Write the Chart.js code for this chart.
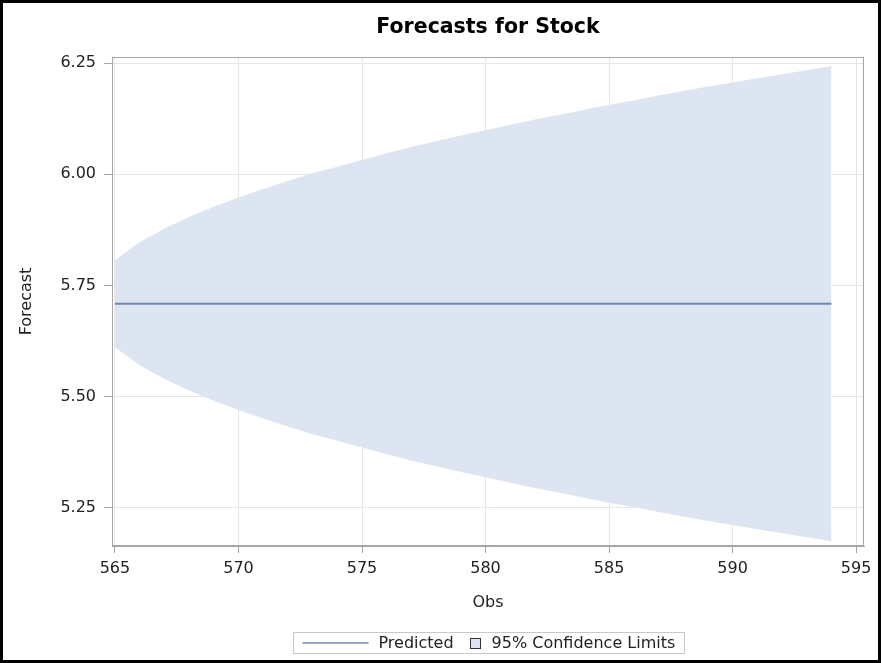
<!DOCTYPE html>
<html>
<head>
<meta charset="utf-8">
<script src="https://cdn.jsdelivr.net/npm/chart.js@4/dist/chart.umd.min.js"></script>
<style>
html,body{margin:0;padding:0;background:#fff;}
#wrap{width:881px;height:663px;position:relative;}
</style>
</head>
<body>
<div id="wrap"><canvas id="c" width="881" height="663"></canvas></div>
<script>
// Data
const obs = [565,566,567,568,569,570,571,572,573,574,575,576,577,578,579,580,581,582,583,584,585,586,587,588,589,590,591,592,593,594];
const predicted = [5.709,5.709,5.709,5.709,5.709,5.709,5.709,5.709,5.709,5.709,5.709,5.709,5.709,5.709,5.709,5.709,5.709,5.709,5.709,5.709,5.709,5.709,5.709,5.709,5.709,5.709,5.709,5.709,5.709,5.709];
const upper95 = [5.807,5.847,5.878,5.904,5.927,5.948,5.967,5.985,6.002,6.017,6.032,6.047,6.061,6.074,6.087,6.099,6.111,6.123,6.134,6.145,6.156,6.166,6.177,6.187,6.197,6.206,6.216,6.225,6.234,6.243];
const lower95 = [5.611,5.571,5.540,5.514,5.491,5.470,5.451,5.433,5.416,5.401,5.386,5.371,5.357,5.344,5.331,5.319,5.307,5.295,5.284,5.273,5.262,5.252,5.241,5.231,5.221,5.212,5.202,5.193,5.184,5.175];
const xTicks = [565,570,575,580,585,590,595];
const yTicks = [5.25,5.50,5.75,6.00,6.25];
const titleText = 'Forecasts for Stock';
const legendLabels = ['Predicted', '95% Confidence Limits'];

const FONT = "'DejaVu Sans', sans-serif";
const BAND = '#dce5f1';
const LINE = '#7189ab';
const TXT = '#222';

const pts = (arr) => obs.map((x, i) => ({x: x, y: arr[i]}));

const frameAndLegend = {
  id: 'frameAndLegend',
  afterDraw(chart) {
    const ctx = chart.ctx;
    const a = chart.chartArea;
    const cx = (a.left + a.right) / 2;
    ctx.save();
    // title, centred over the plot area
    ctx.font = 'bold 20.5px ' + FONT;
    ctx.fillStyle = '#000';
    ctx.textAlign = 'center';
    ctx.textBaseline = 'middle';
    ctx.fillText(titleText, cx, 28);
    // plot frame
    ctx.strokeStyle = '#a6a6a6';
    ctx.lineWidth = 1;
    ctx.strokeRect(Math.round(a.left) + 0.5, Math.round(a.top) + 0.5, Math.round(a.right - a.left) - 1, Math.round(a.bottom - a.top) - 1);
    // legend
    ctx.font = '16px ' + FONT;
    ctx.textBaseline = 'middle';
    const t1 = legendLabels[0], t2 = legendLabels[1];
    const w1 = ctx.measureText(t1).width, w2 = ctx.measureText(t2).width;
    const lineLen = 66, gap1 = 10, gapSq = 16, sq = 10, gap2 = 12, padL = 9, padR = 9;
    const total = padL + lineLen + gap1 + w1 + gapSq + sq + gap2 + w2 + padR;
    const bx = Math.round(cx - total / 2) + 0.5, by = 632.5, bh = 21;
    ctx.strokeStyle = '#c8c8c8';
    ctx.strokeRect(bx, by, Math.round(total), bh);
    const my = by + bh / 2;
    let x = bx + padL;
    ctx.strokeStyle = LINE; ctx.lineWidth = 1.3;
    ctx.beginPath(); ctx.moveTo(x, my); ctx.lineTo(x + lineLen, my); ctx.stroke();
    x += lineLen + gap1;
    ctx.fillStyle = TXT; ctx.textAlign = 'left';
    ctx.fillText(t1, x, my + 1);
    x += w1 + gapSq;
    ctx.fillStyle = BAND;
    ctx.fillRect(Math.round(x) + 0.5, Math.round(my - sq / 2) + 0.5, sq, sq);
    ctx.strokeStyle = '#333'; ctx.lineWidth = 1;
    ctx.strokeRect(Math.round(x) + 0.5, Math.round(my - sq / 2) + 0.5, sq, sq);
    x += sq + gap2;
    ctx.fillStyle = TXT;
    ctx.fillText(t2, x, my + 1);
    // outer black frame
    ctx.strokeStyle = '#000'; ctx.lineWidth = 3;
    ctx.strokeRect(1.5, 1.5, chart.width - 3, chart.height - 3);
    ctx.restore();
  }
};

new Chart(document.getElementById('c'), {
  type: 'line',
  data: {
    datasets: [
      { label: '95% Upper', data: pts(upper95), fill: '+1', backgroundColor: BAND, borderColor: 'transparent', borderWidth: 0, pointRadius: 0, tension: 0 },
      { label: '95% Lower', data: pts(lower95), fill: false, borderColor: 'transparent', borderWidth: 0, pointRadius: 0, tension: 0 },
      { label: 'Predicted', data: pts(predicted), fill: false, borderColor: LINE, borderWidth: 2, pointRadius: 0, tension: 0 }
    ]
  },
  options: {
    responsive: false,
    animation: false,
    events: [],
    layout: { padding: { left: 0, right: 17, top: 57, bottom: 47 } },
    plugins: {
      legend: { display: false },
      tooltip: { enabled: false },
      filler: { drawTime: 'beforeDatasetsDraw' },
      title: { display: false }
    },
    scales: {
      x: {
        type: 'linear',
        min: 564.88, max: 595.32,
        afterBuildTicks: (s) => { s.ticks = xTicks.map(v => ({value: v})); },
        afterFit: (s) => { s.height = 70; },
        ticks: { color: TXT, font: { family: FONT, size: 16 }, padding: 6, maxRotation: 0, autoSkip: false },
        grid: { color: '#e6e6e6', tickColor: '#a6a6a6', tickLength: 7, drawOnChartArea: true },
        border: { color: '#a6a6a6' },
        title: { display: true, text: 'Obs', color: TXT, font: { family: FONT, size: 16 }, padding: { top: 0, bottom: 4 } }
      },
      y: {
        type: 'linear',
        min: 5.1646, max: 6.2635,
        afterBuildTicks: (s) => { s.ticks = yTicks.map(v => ({value: v})); },
        afterFit: (s) => { s.width = 112; },
        ticks: { color: TXT, font: { family: FONT, size: 16 }, padding: 8, callback: (v) => Number(v).toFixed(2) },
        grid: { color: '#e6e6e6', tickColor: '#a6a6a6', tickLength: 8 },
        border: { color: '#a6a6a6' },
        title: { display: true, text: 'Forecast', color: TXT, font: { family: FONT, size: 16 }, padding: { top: 17, bottom: 0 } }
      }
    }
  },
  plugins: [frameAndLegend]
});
</script>
</body>
</html>
